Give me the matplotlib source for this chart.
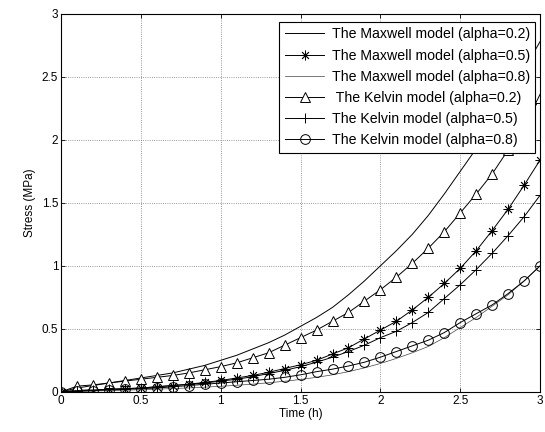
import matplotlib
matplotlib.use("Agg")
import matplotlib.pyplot as plt

plt.rcParams['font.family'] = ['Liberation Sans', 'DejaVu Sans']
plt.rcParams['font.size'] = 8.5

# time (h)
t = [0.0, 0.1, 0.2, 0.3, 0.4, 0.5, 0.6, 0.7, 0.8, 0.9, 1.0,
     1.1, 1.2, 1.3, 1.4, 1.5, 1.6, 1.7, 1.8, 1.9, 2.0,
     2.1, 2.2, 2.3, 2.4, 2.5, 2.6, 2.7, 2.8, 2.9, 3.0]

# stress (MPa)
maxwell_02 = [0.00, 0.03, 0.05, 0.07, 0.09, 0.11, 0.13, 0.15, 0.18, 0.21, 0.25,
              0.29, 0.34, 0.39, 0.45, 0.52, 0.59, 0.67, 0.77, 0.88, 1.00,
              1.12, 1.25, 1.40, 1.57, 1.75, 1.93, 2.13, 2.34, 2.56, 2.78]
maxwell_05 = [0.00, 0.01, 0.015, 0.02, 0.025, 0.03, 0.04, 0.05, 0.06, 0.075, 0.09,
              0.11, 0.13, 0.155, 0.185, 0.215, 0.25, 0.30, 0.35, 0.42, 0.49,
              0.56, 0.65, 0.75, 0.86, 0.98, 1.12, 1.28, 1.45, 1.64, 1.84]
maxwell_08 = [0.00, 0.003, 0.006, 0.01, 0.013, 0.017, 0.021, 0.026, 0.031, 0.037, 0.044,
              0.052, 0.061, 0.072, 0.084, 0.098, 0.115, 0.135, 0.16, 0.19, 0.225,
              0.265, 0.31, 0.36, 0.43, 0.51, 0.59, 0.68, 0.77, 0.88, 1.00]
kelvin_02 = [0.00, 0.045, 0.055, 0.07, 0.085, 0.10, 0.115, 0.13, 0.15, 0.175, 0.20,
             0.23, 0.27, 0.31, 0.37, 0.43, 0.49, 0.56, 0.63, 0.72, 0.81,
             0.91, 1.02, 1.14, 1.27, 1.42, 1.57, 1.73, 1.92, 2.12, 2.33]
kelvin_05 = [0.00, 0.01, 0.015, 0.02, 0.025, 0.03, 0.04, 0.05, 0.06, 0.07, 0.085,
             0.10, 0.12, 0.145, 0.17, 0.20, 0.235, 0.275, 0.32, 0.37, 0.43,
             0.48, 0.55, 0.63, 0.74, 0.85, 0.97, 1.10, 1.24, 1.39, 1.56]
kelvin_08 = [0.00, 0.005, 0.01, 0.015, 0.02, 0.025, 0.03, 0.04, 0.05, 0.06, 0.07,
             0.08, 0.09, 0.10, 0.115, 0.135, 0.16, 0.18, 0.205, 0.235, 0.275,
             0.32, 0.365, 0.41, 0.47, 0.55, 0.62, 0.69, 0.78, 0.88, 1.00]

ticks = [0, 0.5, 1, 1.5, 2, 2.5, 3]
tick_labels = ['0', '0.5', '1', '1.5', '2', '2.5', '3']

fig = plt.figure(figsize=(5.45, 4.32), dpi=100)
ax = fig.add_axes([0.112, 0.093, 0.879, 0.875])

lw = 0.7
ms = 7
ax.plot(t, maxwell_02, '-', color='black', lw=lw, label='The Maxwell model (alpha=0.2)')
ax.plot(t, maxwell_05, '-', color='black', lw=lw, marker=(8, 2, 0), ms=ms,
        mew=0.6, label='The Maxwell model (alpha=0.5)')
ax.plot(t, maxwell_08, '-', color='#444444', lw=0.5, label='The Maxwell model (alpha=0.8)')
ax.plot(t, kelvin_02, '-', color='black', lw=lw, marker='^', ms=ms, mfc='white',
        mew=0.7, label=' The Kelvin model (alpha=0.2)')
ax.plot(t, kelvin_05, '-', color='black', lw=lw, marker='+', ms=ms,
        mew=0.7, label='The Kelvin model (alpha=0.5)')
ax.plot(t, kelvin_08, '-', color='black', lw=lw, marker='o', ms=ms, mfc='none',
        mew=0.7, label='The Kelvin model (alpha=0.8)')

ax.set_xlim(0, 3)
ax.set_ylim(0, 3)
ax.set_xticks(ticks)
ax.set_xticklabels(tick_labels)
ax.set_yticks(ticks)
ax.set_yticklabels(tick_labels)
ax.tick_params(direction='in', top=True, right=True, length=3, width=0.6, pad=2)
ax.grid(True, linestyle=':', color='#777777', linewidth=0.6)
for s in ax.spines.values():
    s.set_linewidth(0.8)

ax.set_xlabel('Time (h)', labelpad=1)
ax.set_ylabel('Stress (MPa)', labelpad=4)

leg = ax.legend(loc='upper right', bbox_to_anchor=(0.99, 0.979), borderaxespad=0,
                fancybox=False, framealpha=1, edgecolor='black',
                handlelength=2.8, labelspacing=0.5, borderpad=0.4,
                handletextpad=0.5, fontsize=10.2)
leg.get_frame().set_linewidth(0.8)

fig.savefig('out.png', dpi=100)
